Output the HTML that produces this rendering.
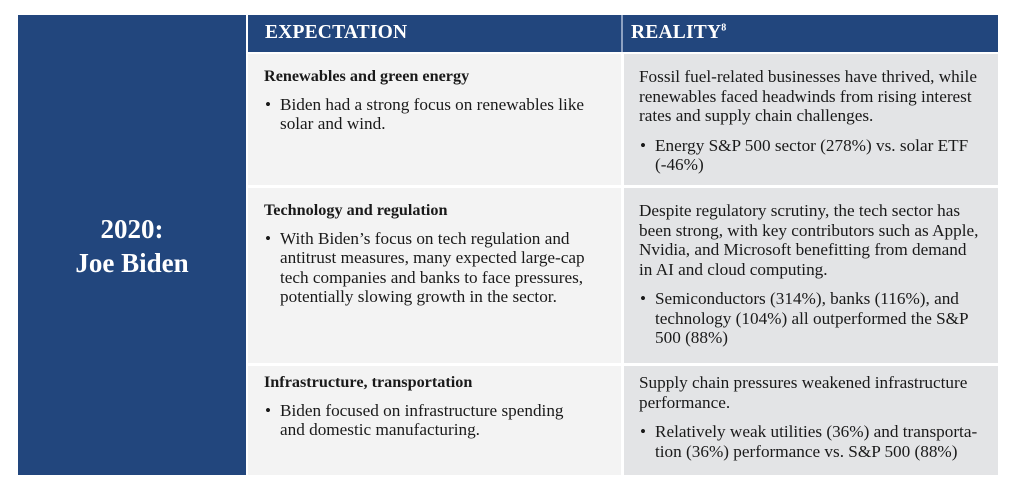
<!DOCTYPE html>
<html><head><meta charset="utf-8"><style>
body{margin:0;width:1021px;height:496px;background:#fff;position:relative;font-family:"Liberation Serif",serif;color:#1a1a1a;overflow:hidden}
.a{position:absolute}
.blk{position:absolute;font-size:17.2px;line-height:19.5px;white-space:nowrap}
.h{font-weight:bold;font-size:16.2px}
.b{position:relative;padding-left:16px}
.b:before{content:"•";position:absolute;left:1px;top:0}
.gap{height:10px}
.hd{color:#fff;font-weight:bold;font-size:19.5px;top:22px;letter-spacing:0.2px}
</style></head><body>
<div class="a" style="left:18px;top:15px;width:228px;height:460px;background:#22467d"></div>
<div class="a" style="left:18px;top:212px;width:228px;text-align:center;color:#fff;font-weight:bold;font-size:27px;line-height:34px">2020:<br>Joe Biden</div>
<div class="a" style="left:248px;top:15px;width:750px;height:37px;background:#22467d"></div>
<div class="a" style="left:621px;top:15px;width:2px;height:37px;background:#8ea2c2"></div>
<div class="a hd" style="left:265px">EXPECTATION</div>
<div class="a hd" style="left:631px">REALITY<sup style="font-size:10px">8</sup></div>

<div class="a" style="left:248px;top:54px;width:373px;height:131px;background:#f3f3f3"></div>
<div class="a" style="left:624px;top:54px;width:374px;height:131px;background:#e3e4e6"></div>
<div class="a" style="left:248px;top:188px;width:373px;height:175px;background:#f3f3f3"></div>
<div class="a" style="left:624px;top:188px;width:374px;height:175px;background:#e3e4e6"></div>
<div class="a" style="left:248px;top:366px;width:373px;height:109px;background:#f3f3f3"></div>
<div class="a" style="left:624px;top:366px;width:374px;height:109px;background:#e3e4e6"></div>

<div class="blk" style="left:264px;top:67px">
<div class="h">Renewables and green energy</div><div style="height:8px"></div>
<div class="b">Biden had a strong focus on renewables like<br>solar and wind.</div></div>
<div class="blk" style="left:639px;top:67px">
Fossil fuel-related businesses have thrived, while<br>renewables faced headwinds from rising interest<br>rates and supply chain challenges.<div class="gap"></div>
<div class="b">Energy S&amp;P 500 sector (278%) vs. solar ETF<br>(-46%)</div></div>

<div class="blk" style="left:264px;top:201px">
<div class="h">Technology and regulation</div><div style="height:8px"></div>
<div class="b">With Biden’s focus on tech regulation and<br>antitrust measures, many expected large-cap<br>tech companies and banks to face pressures,<br>potentially slowing growth in the sector.</div></div>
<div class="blk" style="left:639px;top:201px">
Despite regulatory scrutiny, the tech sector has<br>been strong, with key contributors such as Apple,<br>Nvidia, and Microsoft benefitting from demand<br>in AI and cloud computing.<div class="gap"></div>
<div class="b">Semiconductors (314%), banks (116%), and<br>technology (104%) all outperformed the S&amp;P<br>500 (88%)</div></div>

<div class="blk" style="left:264px;top:373px">
<div class="h">Infrastructure, transportation</div><div style="height:8px"></div>
<div class="b">Biden focused on infrastructure spending<br>and domestic manufacturing.</div></div>
<div class="blk" style="left:639px;top:373px">
Supply chain pressures weakened infrastructure<br>performance.<div class="gap"></div>
<div class="b">Relatively weak utilities (36%) and transporta-<br>tion (36%) performance vs. S&amp;P 500 (88%)</div></div>
</body></html>
